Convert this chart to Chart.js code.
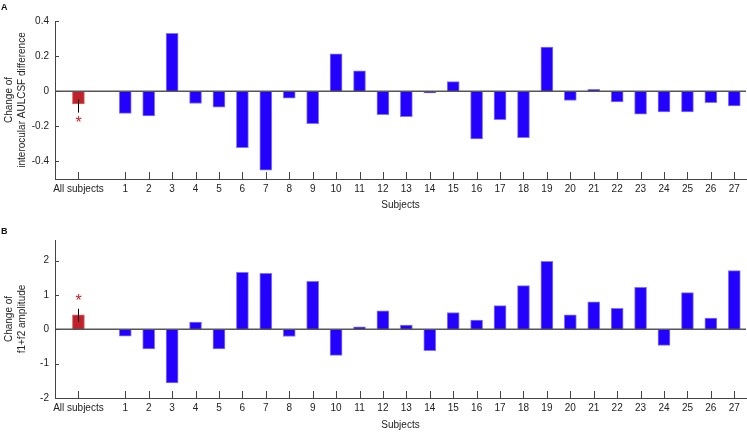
<!DOCTYPE html>
<html>
<head>
<meta charset="utf-8">
<script src="https://cdn.jsdelivr.net/npm/chart.js@4/dist/chart.umd.min.js"></script>
<style>
body { margin: 0; background: #fff; width: 747px; height: 432px; position: relative; overflow: hidden; }
.panel { position: absolute; left: 0; width: 747px; height: 216px; }
.tag { position: absolute; left: 1px; font: bold 9px "Liberation Sans", Arial, sans-serif; color: #111; }
</style>
</head>
<body>
<div class="panel" style="top:0"><canvas id="chartA" width="747" height="216"></canvas></div>
<div class="panel" style="top:216px"><canvas id="chartB" width="747" height="216"></canvas></div>
<div class="tag" style="top:2px">A</div>
<div class="tag" style="top:226px">B</div>
<script>
// subjects shown on the x axis, "All subjects" sits left of them with a gap
const subjects = ['1','2','3','4','5','6','7','8','9','10','11','12','13','14','15','16','17','18','19','20','21','22','23','24','25','26','27'];
const allLabel = 'All subjects';

// panel A: change of interocular AULCSF difference
const aulcsfAll = -0.072;
const aulcsfErr = [-0.122, -0.045];
const aulcsfStar = -0.16;
const aulcsfChange = [-0.126, -0.141, 0.33, -0.07, -0.091, -0.322, -0.45, -0.04, -0.185, 0.213,
  0.116, -0.133, -0.145, -0.01, 0.055, -0.272, -0.162, -0.265, 0.251, -0.053,
  0.011, -0.061, -0.131, -0.118, -0.118, -0.065, -0.084];
const yTicksA = [-0.4, -0.2, 0, 0.2, 0.4];

// panel B: change of f1+f2 amplitude
const ampAll = 0.42;
const ampErr = [0.22, 0.6];
const ampStar = 0.93;
const ampChange = [-0.2, -0.57, -1.56, 0.21, -0.57, 1.66, 1.63, -0.21, 1.4, -0.76,
  0.07, 0.54, 0.125, -0.625, 0.49, 0.27, 0.69, 1.27, 1.98, 0.42,
  0.8, 0.61, 1.22, -0.47, 1.07, 0.33, 1.71];
const yTicksB = [-2, -1, 0, 1, 2];

const BLUE = '#2400ff';
const RED = '#c0222c';
const AXIS = '#444';
const FONT = '"Liberation Sans", Arial, sans-serif';

Chart.defaults.font.family = FONT;
Chart.defaults.font.size = 10;
Chart.defaults.color = '#222';

function makeChart(id, p) {
  const allPos = -1;
  const data = [{ x: allPos, y: p.all }].concat(subjects.map((s, i) => ({ x: +s, y: p.values[i] })));
  const xTicks = [allPos].concat(subjects.map(Number));

  const decor = {
    id: 'decor' + id,
    afterDatasetsDraw(chart) {
      const { ctx, chartArea: a, scales: { x, y } } = chart;
      ctx.save();
      // zero line
      const y0 = y.getPixelForValue(0);
      ctx.strokeStyle = '#555';
      ctx.lineWidth = 1.5;
      ctx.beginPath();
      ctx.moveTo(a.left, y0);
      ctx.lineTo(a.right, y0);
      ctx.stroke();
      // inward tick marks
      ctx.strokeStyle = AXIS;
      ctx.lineWidth = 1;
      ctx.beginPath();
      y.ticks.forEach(t => {
        const py = Math.round(y.getPixelForValue(t.value)) + 0.5;
        ctx.moveTo(a.left, py);
        ctx.lineTo(a.left + 4, py);
      });
      x.ticks.forEach(t => {
        const px = Math.round(x.getPixelForValue(t.value)) + 0.5;
        ctx.moveTo(px, a.bottom);
        ctx.lineTo(px, a.bottom - 7);
      });
      ctx.stroke();
      // error bar on the pooled bar
      const ex = Math.round(x.getPixelForValue(allPos)) + 0.5;
      ctx.strokeStyle = '#000';
      ctx.beginPath();
      ctx.moveTo(ex, y.getPixelForValue(p.err[0]));
      ctx.lineTo(ex, y.getPixelForValue(p.err[1]));
      ctx.stroke();
      // significance star
      ctx.fillStyle = RED;
      ctx.font = '16px ' + FONT;
      ctx.textAlign = 'center';
      ctx.textBaseline = 'alphabetic';
      ctx.fillText('*', ex, y.getPixelForValue(p.star) + 16 * 0.57);
      ctx.restore();
    }
  };

  return new Chart(document.getElementById(id), {
    type: 'bar',
    data: {
      datasets: [{
        data: data,
        backgroundColor: data.map(d => d.x === allPos ? RED : BLUE),
        borderColor: data.map(d => d.x === allPos ? '#d4666c' : '#7f76ff'),
        borderWidth: 1,
        barThickness: 12
      }]
    },
    options: {
      responsive: false,
      animation: false,
      layout: { padding: { top: p.top, right: 1, bottom: 0, left: 0 } },
      plugins: { legend: { display: false }, tooltip: { enabled: false } },
      scales: {
        x: {
          type: 'linear',
          offset: false,
          min: -2,
          max: 27.5,
          afterBuildTicks: s => { s.ticks = xTicks.map(v => ({ value: v })); },
          afterFit: s => { s.height = p.xHeight; },
          grid: { display: false, drawTicks: false, offset: false },
          border: { display: true, color: AXIS, width: 1 },
          ticks: {
            autoSkip: false,
            maxRotation: 0,
            padding: 4,
            callback: v => v === allPos ? allLabel : String(v)
          },
          title: { display: true, text: 'Subjects', font: { size: 10 }, padding: { top: 0, bottom: p.xTitlePad } }
        },
        y: {
          min: p.min,
          max: p.max,
          afterBuildTicks: s => { s.ticks = p.yTicks.map(v => ({ value: v })); },
          afterFit: s => { s.width = 55; },
          grid: { display: false, drawTicks: false },
          border: { display: true, color: AXIS, width: 1 },
          ticks: { padding: 6, callback: v => String(v) },
          title: {
            display: true,
            text: p.title,
            font: { size: 10, lineHeight: 1.35 },
            padding: { top: 2, bottom: 0 }
          }
        }
      }
    },
    plugins: [decor]
  });
}

makeChart('chartA', {
  all: aulcsfAll, err: aulcsfErr, star: aulcsfStar, values: aulcsfChange,
  yTicks: yTicksA, min: -0.5, max: 0.4, top: 21, xHeight: 37, xTitlePad: 5,
  title: ['Change of', 'interocular AULCSF difference']
});
makeChart('chartB', {
  all: ampAll, err: ampErr, star: ampStar, values: ampChange,
  yTicks: yTicksB, min: -2, max: 2.6, top: 24, xHeight: 34, xTitlePad: 1,
  title: ['Change of', 'f1+f2 amplitude']
});
</script>
</body>
</html>
